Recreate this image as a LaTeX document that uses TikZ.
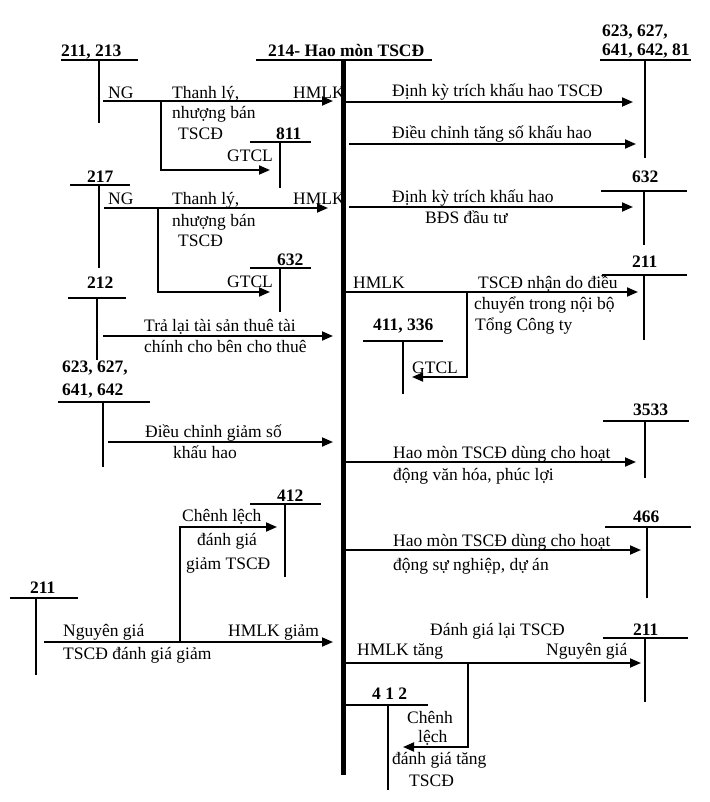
\documentclass[tikz,border=0pt]{standalone}
\usepackage{fontspec}
\setmainfont{Liberation Serif}
\usetikzlibrary{arrows.meta}
\begin{document}
\begin{tikzpicture}[x=1pt,y=-1pt,
  lbl/.style={anchor=base west,inner sep=0pt,font=\fontsize{17.5}{21}\selectfont},
  acc/.style={anchor=base west,inner sep=0pt,font=\bfseries\fontsize{17.5}{21}\selectfont},
  ln/.style={line width=1.8pt},
  arr/.style={line width=1.8pt,-{Triangle[length=11pt,width=9pt]}},
  mainline/.style={line width=5pt}]
\useasboundingbox[fill=white] (0,0) rectangle (709,802);

% ---------- main account 214 ----------
\node[acc] (title) at (268,57) {214- Hao mòn TSCĐ};
\draw[ln] (256,60) -- (432,60);
\coordinate (mtop) at (343,60);
\coordinate (mbot) at (343,775);
\draw[mainline] (mtop) -- (mbot);

% ---------- 211, 213 ----------
\node[acc] (a211) at (61,57) {211, 213};
\draw[ln] (61,60) -- (138,60);
\draw[ln] (99,60) -- (99,123);
\coordinate (r1s) at (103,101); \coordinate (r1e) at (333,101);
\draw[arr] (r1s) -- (r1e);
\node[lbl] (t1a) at (108,99) {NG};
\node[lbl] (t1b) at (172,99) {Thanh lý,};
\node[lbl] (t1c) at (172,119) {nhượng bán};
\node[lbl] (t1d) at (178,140) {TSCĐ};
\node[lbl] (t1e) at (293,99) {HMLK};
\coordinate (b1a) at (161,101); \coordinate (b1b) at (161,170); \coordinate (b1c) at (270,170);
\draw[arr] (b1a) -- (b1b) -- (b1c);
\node[lbl] (t1f) at (227,162) {GTCL};
% 811
\node[acc] (a811) at (276,140) {811};
\draw[ln] (250,142) -- (311,142);
\draw[ln] (280,142) -- (280,188);

% ---------- 217 ----------
\node[acc] (a217) at (87,183) {217};
\draw[ln] (70,185) -- (130,185);
\draw[ln] (99,185) -- (99,268);
\coordinate (r2s) at (104,208); \coordinate (r2e) at (328,208);
\draw[arr] (r2s) -- (r2e);
\node[lbl] (t2a) at (108,205) {NG};
\node[lbl] (t2b) at (172,205) {Thanh lý,};
\node[lbl] (t2c) at (172,226) {nhượng bán};
\node[lbl] (t2d) at (178,246) {TSCĐ};
\node[lbl] (t2e) at (293,205) {HMLK};
\coordinate (b2a) at (158,208); \coordinate (b2b) at (158,292); \coordinate (b2c) at (270,292);
\draw[arr] (b2a) -- (b2b) -- (b2c);
\node[lbl] (t2f) at (227,287) {GTCL};
% 632 left
\node[acc] (a632l) at (277,265) {632};
\draw[ln] (250,268) -- (311,268);
\draw[ln] (280,268) -- (280,312);

% ---------- 212 ----------
\node[acc] (a212) at (87,288) {212};
\draw[ln] (68,298) -- (126,298);
\draw[ln] (97,298) -- (97,360);
\coordinate (r3s) at (103,336); \coordinate (r3e) at (333,336);
\draw[arr] (r3s) -- (r3e);
\node[lbl] (t3a) at (144,331) {Trả lại tài sản thuê tài};
\node[lbl] (t3b) at (144,352) {chính cho bên cho thuê};

% ---------- 623, 627, 641, 642 (left) ----------
\node[acc] (a623l) at (62,372) {623, 627,};
\node[acc] (a641l) at (62,395) {641, 642};
\draw[ln] (58,402) -- (150,402);
\draw[ln] (103,402) -- (103,467);
\coordinate (r4s) at (108,442); \coordinate (r4e) at (333,442);
\draw[arr] (r4s) -- (r4e);
\node[lbl] (t4a) at (145,437) {Điều chỉnh giảm số};
\node[lbl] (t4b) at (173,458) {khấu hao};

% ---------- 412 (left) ----------
\node[acc] (a412l) at (277,501) {412};
\draw[ln] (250,504) -- (321,504);
\draw[ln] (285,504) -- (285,577);

% ---------- 211 (bottom left) ----------
\node[acc] (a211bl) at (30,593) {211};
\draw[ln] (10,598) -- (78,598);
\draw[ln] (36,598) -- (36,675);
\coordinate (r5s) at (44,642); \coordinate (r5e) at (333,642);
\draw[arr] (r5s) -- (r5e);
\node[lbl] (t5a) at (63,636) {Nguyên giá};
\node[lbl] (t5b) at (63,659) {TSCĐ đánh giá giảm};
\node[lbl] (t5c) at (228,636) {HMLK giảm};
\coordinate (b5a) at (180,642); \coordinate (b5b) at (180,527); \coordinate (b5c) at (277,527);
\draw[arr] (b5a) -- (b5b) -- (b5c);
\node[lbl] (t5d) at (182,521) {Chênh lệch};
\node[lbl] (t5e) at (197,545) {đánh giá};
\node[lbl] (t5f) at (186,569) {giảm TSCĐ};

% ---------- right: 623, 627, 641, 642, 81 ----------
\node[acc] (a623r) at (602,37) {623, 627,};
\node[acc] (a641r) at (602,56) {641, 642, 81};
\draw[ln] (600,60) -- (691,60);
\draw[ln] (645,60) -- (645,158);
\coordinate (s1s) at (346,102); \coordinate (s1e) at (633,102);
\draw[arr] (s1s) -- (s1e);
\node[lbl] (u1a) at (392,97) {Định kỳ trích khấu hao TSCĐ};
\coordinate (s2s) at (349,144); \coordinate (s2e) at (636,144);
\draw[arr] (s2s) -- (s2e);
\node[lbl] (u2a) at (392,139) {Điều chỉnh tăng số khấu hao};

% ---------- 632 right ----------
\node[acc] (a632r) at (632,183) {632};
\draw[ln] (601,191) -- (687,191);
\draw[ln] (644,191) -- (644,245);
\coordinate (s3s) at (349,207); \coordinate (s3e) at (633,207);
\draw[arr] (s3s) -- (s3e);
\node[lbl] (u3a) at (392,203) {Định kỳ trích khấu hao};
\node[lbl] (u3b) at (425,224) {BĐS đầu tư};

% ---------- 211 right ----------
\node[acc] (a211r) at (632,267) {211};
\draw[ln] (602,275) -- (687,275);
\draw[ln] (644,275) -- (644,340);
\coordinate (s4s) at (346,292); \coordinate (s4e) at (638,292);
\draw[arr] (s4s) -- (s4e);
\node[lbl] (u4a) at (353,288) {HMLK};
\node[lbl] (u4b) at (478,288) {TSCĐ nhận do điều};
\node[lbl] (u4c) at (474,309) {chuyển trong nội bộ};
\node[lbl] (u4d) at (475,330) {Tổng Công ty};
\coordinate (c4a) at (467,292); \coordinate (c4b) at (467,377); \coordinate (c4c) at (412,377);
\draw[arr] (c4a) -- (c4b) -- (c4c);
\node[lbl] (u4e) at (412,373) {GTCL};
% 411, 336
\node[acc] (a411) at (373,330) {411, 336};
\draw[ln] (363,341) -- (443,341);
\draw[ln] (403,341) -- (403,394);

% ---------- 3533 ----------
\node[acc] (a3533) at (633,415) {3533};
\draw[ln] (603,421) -- (689,421);
\draw[ln] (645,421) -- (645,478);
\coordinate (s5s) at (346,462); \coordinate (s5e) at (636,462);
\draw[arr] (s5s) -- (s5e);
\node[lbl] (u5a) at (393,458) {Hao mòn TSCĐ dùng cho hoạt};
\node[lbl] (u5b) at (393,480) {động văn hóa, phúc lợi};

% ---------- 466 ----------
\node[acc] (a466) at (633,522) {466};
\draw[ln] (605,527) -- (691,527);
\draw[ln] (647,527) -- (647,598);
\coordinate (s6s) at (346,550); \coordinate (s6e) at (641,550);
\draw[arr] (s6s) -- (s6e);
\node[lbl] (u6a) at (393,546) {Hao mòn TSCĐ dùng cho hoạt};
\node[lbl] (u6b) at (393,570) {động sự nghiệp, dự án};

% ---------- 211 bottom right ----------
\node[lbl] (u7t) at (430,635) {Đánh giá lại TSCĐ};
\node[acc] (a211br) at (633,635) {211};
\draw[ln] (603,638) -- (688,638);
\draw[ln] (645,638) -- (645,702);
\coordinate (s7s) at (346,663); \coordinate (s7e) at (641,663);
\draw[arr] (s7s) -- (s7e);
\node[lbl] (u7a) at (357,655) {HMLK tăng};
\node[lbl] (u7b) at (546,655) {Nguyên giá};
\coordinate (c7a) at (468,663); \coordinate (c7b) at (468,747); \coordinate (c7c) at (403,747);
\draw[arr] (c7a) -- (c7b) -- (c7c);

% ---------- 4 1 2 ----------
\node[acc] (a412r) at (372,699) {4 1 2};
\draw[ln] (346,705) -- (428,705);
\draw[ln] (388,705) -- (388,790);
\node[lbl] (u8a) at (407,723) {Chênh};
\node[lbl] (u8b) at (418,742) {lệch};
\node[lbl] (u8c) at (392,764) {đánh giá tăng};
\node[lbl] (u8d) at (409,786) {TSCĐ};
\end{tikzpicture}
\end{document}
